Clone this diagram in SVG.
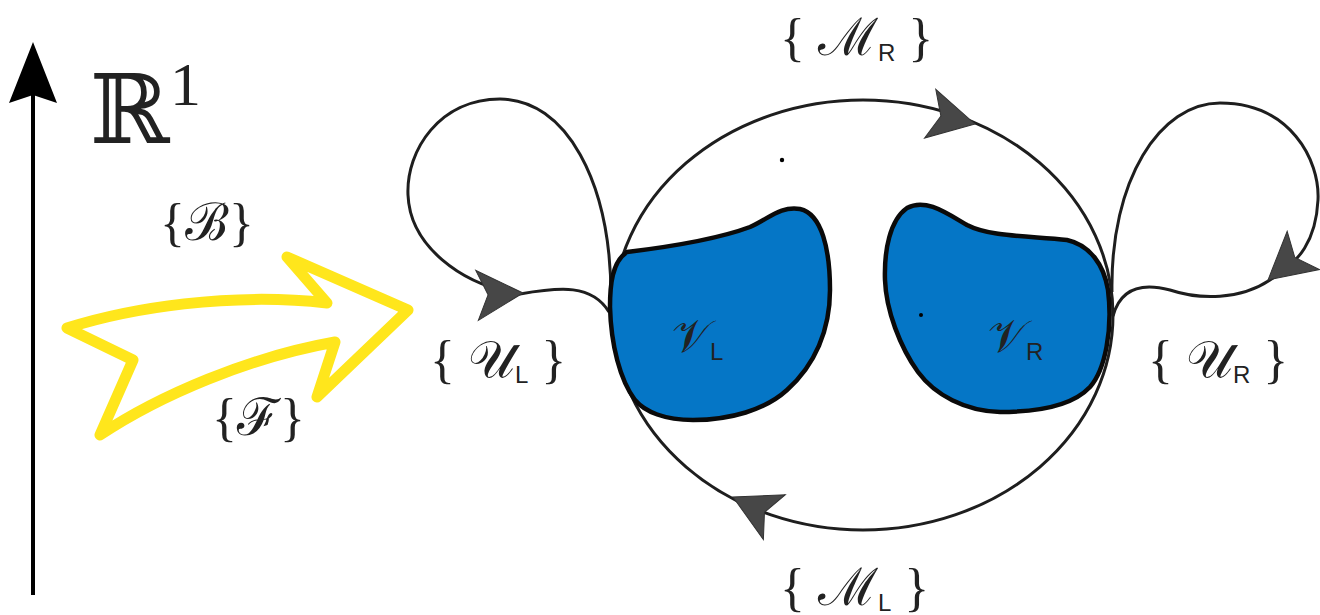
<svg xmlns="http://www.w3.org/2000/svg" width="1320" height="615" viewBox="0 0 1320 615">
<style>
.ln{fill:none;stroke:#1e1e1e;stroke-width:3}
.ah{fill:#474747;stroke:#333;stroke-width:1}
.blob{fill:#0576c6;stroke:#0a0a0a;stroke-width:4.5;stroke-linejoin:round}
.lbl{font-family:"Liberation Serif","DejaVu Serif",serif;fill:#222}
.sub{font-family:"Liberation Sans","DejaVu Sans",sans-serif}
</style>
<defs>
<path id="ahead" d="M0,0 L-46,-25 L-35,0 L-46,25 Z"/>
</defs>
<rect width="1320" height="615" fill="#fff"/>

<g id="axis">
<line x1="33" y1="595" x2="33" y2="90" stroke="#000" stroke-width="4"/>
<path d="M33,42 L57,103 L33,95 L9,103 Z" fill="#000"/>
<text x="90" y="143" font-family="DejaVu Serif,serif" font-size="96" fill="#222">ℝ</text>
<text x="170" y="105" font-family="Liberation Serif,serif" font-size="62" fill="#222">1</text>
</g>

<g id="transition-arrow">
<path d="M67,328 C130,308 230,292 327,303 L287,257 L408,310 L317,397 L335,342 C250,357 160,395 100,435 L133,360 Z" fill="none" stroke="#ffe61c" stroke-width="11" stroke-linejoin="round"/>
<text class="lbl" x="160" y="240" font-size="52">{ℬ}</text>
<text class="lbl" x="212" y="435" font-size="52">{ℱ}</text>
</g>

<g id="connectors">
<ellipse class="ln" cx="863" cy="315" rx="250" ry="215"/>
<path class="ln" d="M611,302 C612,180 565,99 500,99 C440,99 406,150 408,195 C410,245 460,285 520,294 C560,287 592,284 609,312"/>
<path class="ln" d="M1112,292 C1110,180 1160,103 1220,103 C1290,103 1320,160 1318,200 C1316,240 1300,262 1270,280 C1240,300 1200,300 1170,290 C1140,282 1120,290 1113,316"/>
<use href="#ahead" class="ah" transform="translate(975,124) rotate(13)"/>
<use href="#ahead" class="ah" transform="translate(733,497) rotate(206)"/>
<use href="#ahead" class="ah" transform="translate(523,293) rotate(-3)"/>
<use href="#ahead" class="ah" transform="translate(1268,280) rotate(140)"/>
</g>

<g id="VL">
<path class="blob" d="M627,252 C660,248 715,240 750,227 C770,218 780,206 800,209 C822,214 830,250 830,290 C830,330 815,365 787,390 C765,410 730,420 693,420 C665,420 645,412 635,400 C620,380 611,345 610,307 C610,285 612,262 627,252 Z"/>
<text class="lbl" x="672" y="352" font-size="46">𝒱<tspan class="sub" font-size="24" dy="8">L</tspan></text>
</g>

<g id="VR">
<path class="blob" d="M907,208 C925,198 945,212 967,225 C990,237 1030,236 1067,240 C1090,245 1104,265 1108,290 C1113,330 1105,370 1090,387 C1075,403 1045,412 1000,412 C965,411 935,395 918,372 C900,347 886,310 885,280 C884,250 890,220 907,208 Z"/>
<circle cx="921" cy="315" r="2" fill="#000"/>
<text class="lbl" x="988" y="352" font-size="46">𝒱<tspan class="sub" font-size="24" dy="8">R</tspan></text>
</g>

<g id="labels">
<circle cx="782" cy="160" r="2.2" fill="#000"/>
<text class="lbl" x="430" y="377" font-size="52">{ 𝒰<tspan class="sub" font-size="24" dy="6">L</tspan><tspan dy="-6"> }</tspan></text>
<text class="lbl" x="1148" y="377" font-size="52">{ 𝒰<tspan class="sub" font-size="24" dy="6">R</tspan><tspan dy="-6"> }</tspan></text>
<text class="lbl" x="780" y="55" font-size="52">{ ℳ<tspan class="sub" font-size="24" dy="6">R</tspan><tspan dy="-6"> }</tspan></text>
<text class="lbl" x="780" y="605" font-size="52">{ ℳ<tspan class="sub" font-size="24" dy="6">L</tspan><tspan dy="-6"> }</tspan></text>
</g>
</svg>
